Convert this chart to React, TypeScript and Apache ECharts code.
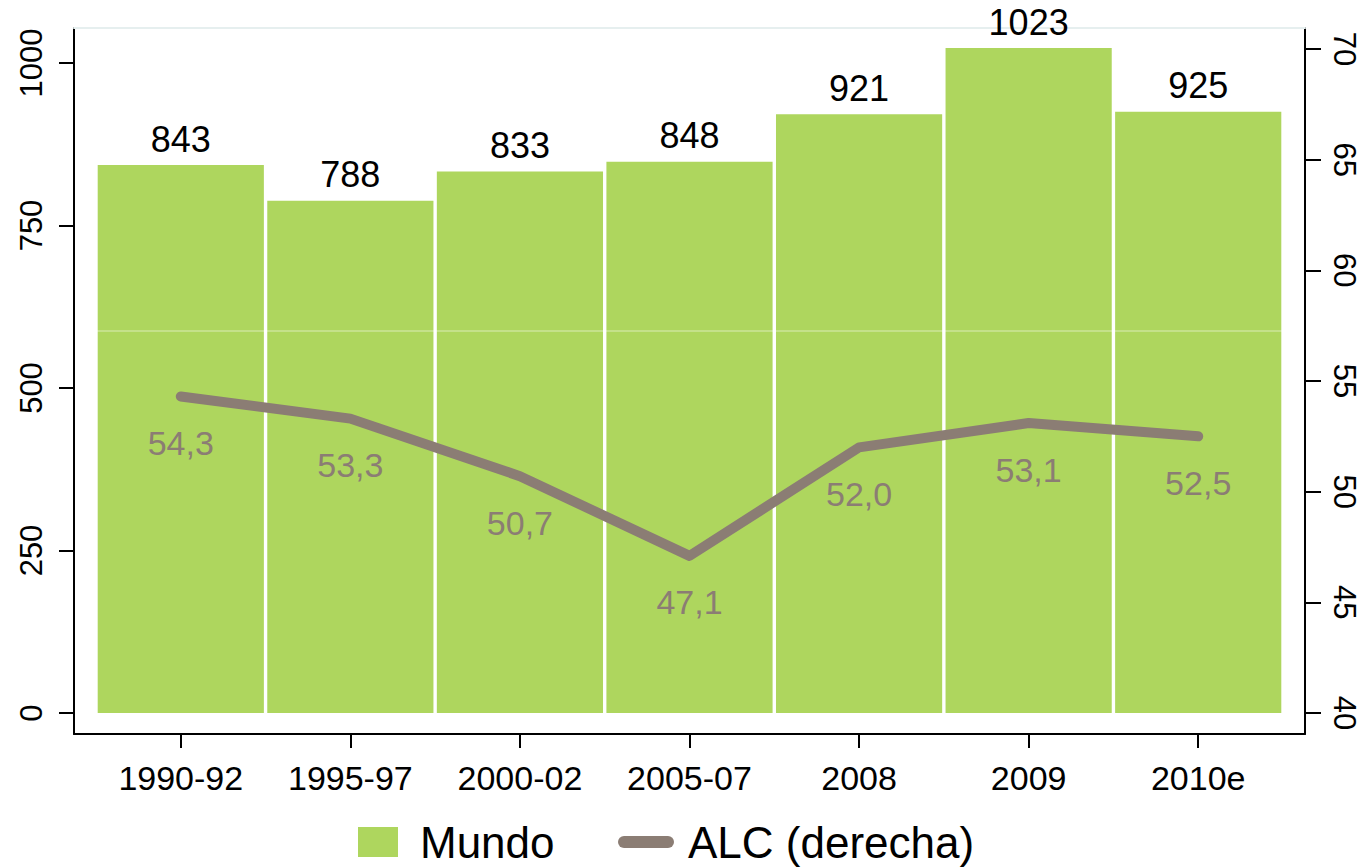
import React, { useEffect, useRef } from "react";
import * as echarts from "echarts";

const categories = ["1990-92", "1995-97", "2000-02", "2005-07", "2008", "2009", "2010e"];
const mundoValues = [843, 788, 833, 848, 921, 1023, 925];
const alcValues = [54.3, 53.3, 50.7, 47.1, 52.0, 53.1, 52.5];
const seriesNames = ["Mundo", "ALC (derecha)"];

const GREEN = "#AED65E";
const GREY = "#8B7D74";
const FONT = "'Liberation Sans', Arial, sans-serif";

export default function App() {
  const ref = useRef<HTMLDivElement>(null);

  useEffect(() => {
    if (!ref.current) return;
    const chart = echarts.init(ref.current, null, { renderer: "svg" });
    const frameLine = { show: true, onZero: false, lineStyle: { color: "#000", width: 2 } };
    const option: any = {
      animation: false,
      backgroundColor: "#fff",
      textStyle: { fontFamily: FONT },
      grid: [
        { left: 74, right: 58, top: 28, bottom: 133 },
        { left: 96, right: 80, top: 63, bottom: 154 },
        { left: 96, right: 80, top: 49, bottom: 154 },
      ],
      xAxis: [
        { gridIndex: 0, type: "category", data: [""], axisLine: frameLine, axisTick: { show: false }, axisLabel: { show: false } },
        {
          gridIndex: 0, type: "category", position: "top", data: [""],
          axisLine: { show: true, onZero: false, lineStyle: { color: "#e6efef", width: 2 } },
          axisTick: { show: false }, axisLabel: { show: false },
        },
        {
          gridIndex: 1, type: "category", data: categories, position: "bottom", offset: 21,
          axisLine: { show: false, onZero: false },
          axisTick: { show: true, alignWithLabel: true, length: 14, lineStyle: { color: "#000", width: 2 } },
          axisLabel: { fontSize: 34, color: "#000", margin: 27, fontFamily: FONT },
        },
        { gridIndex: 2, type: "category", data: categories, show: false },
      ],
      yAxis: [
        { gridIndex: 0, type: "value", position: "left", axisLine: frameLine, axisTick: { show: false }, axisLabel: { show: false }, splitLine: { show: false } },
        { gridIndex: 0, type: "value", position: "right", axisLine: frameLine, axisTick: { show: false }, axisLabel: { show: false }, splitLine: { show: false } },
        {
          gridIndex: 1, type: "value", position: "left", offset: 22, min: 0, max: 1000, interval: 250,
          axisLine: { show: false },
          axisTick: { show: true, length: 15, lineStyle: { color: "#000", width: 2 } },
          axisLabel: { rotate: 90, fontSize: 31, color: "#000", margin: 27, fontFamily: FONT, formatter: (v: number) => String(v) },
          splitLine: { show: false },
        },
        {
          gridIndex: 2, type: "value", position: "right", offset: 22, min: 40, max: 70, interval: 5,
          axisLine: { show: false },
          axisTick: { show: true, length: 16, lineStyle: { color: "#000", width: 2 } },
          axisLabel: { rotate: -90, fontSize: 31, color: "#000", margin: 24, fontFamily: FONT },
          splitLine: { show: false },
        },
      ],
      legend: [
        {
          data: [{ name: seriesNames[0], icon: "rect" }],
          left: 358, top: 820, padding: 0, selectedMode: false,
          itemWidth: 40, itemHeight: 30,
          textStyle: { fontSize: 44, color: "#000", fontFamily: FONT, padding: [0, 0, 0, 17] },
        },
        {
          data: [{ name: seriesNames[1], icon: "path://M6,0 L50,0 A6,6 0 0 1 50,12 L6,12 A6,6 0 0 1 6,0 Z" }],
          left: 618, top: 820, padding: 0, selectedMode: false,
          itemWidth: 60, itemHeight: 12,
          textStyle: { fontSize: 44, color: "#000", fontFamily: FONT, padding: [0, 0, 0, 7] },
        },
      ],
      graphic: [
        {
          type: "line", silent: true, z: 100,
          shape: { x1: 75, y1: 331, x2: 1304, y2: 331 },
          style: { stroke: "rgba(255,255,255,0.55)", lineWidth: 1 },
        },
      ],
      series: [
        {
          name: seriesNames[0], type: "bar", xAxisIndex: 2, yAxisIndex: 2,
          data: mundoValues, barCategoryGap: "2%", clip: false,
          itemStyle: { color: GREEN },
          label: { show: true, position: "top", distance: 8, fontSize: 36, color: "#000", fontFamily: FONT },
        },
        {
          name: seriesNames[1], type: "line", xAxisIndex: 3, yAxisIndex: 3,
          data: alcValues, symbol: "circle", symbolSize: 1,
          itemStyle: { color: GREY },
          lineStyle: { color: GREY, width: 10, cap: "round", join: "round" },
          label: {
            show: true, position: "bottom", distance: 29, fontSize: 34, color: GREY, fontFamily: FONT,
            formatter: (p: any) => Number(p.value).toFixed(1).replace(".", ","),
          },
          z: 5,
        },
      ],
    };
    chart.setOption(option);
    return () => chart.dispose();
  }, []);

  return (
    <div
      ref={ref}
      style={{ position: "absolute", left: 0, top: 0, width: 1363, height: 867, background: "#fff" }}
    />
  );
}
